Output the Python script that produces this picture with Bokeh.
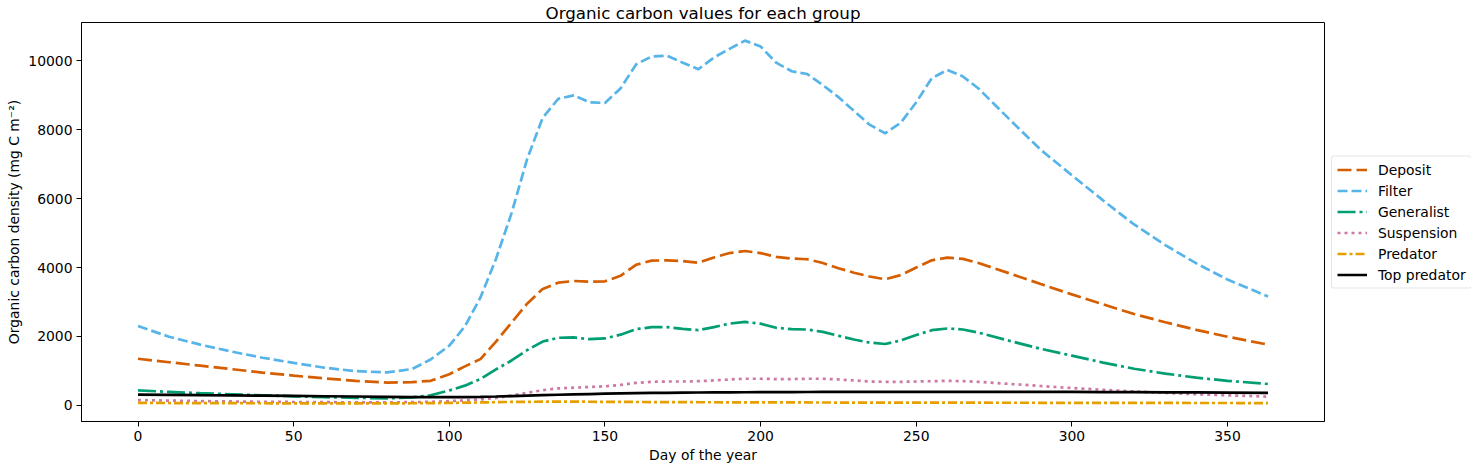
from bokeh.plotting import figure
from bokeh.models import Legend, FixedTicker, Range1d
from bokeh.embed import file_html
from bokeh.resources import INLINE

days = [0, 10, 20, 30, 40, 50, 60, 70, 80, 88, 94, 100, 105, 110, 115, 120, 125, 130, 135, 140,
        145, 150, 155, 160, 165, 170, 175, 180, 185, 190, 195, 200, 205, 210, 215, 220, 225, 230,
        235, 240, 245, 250, 255, 260, 265, 270, 280, 290, 300, 310, 320, 330, 340, 350, 363]

deposit = [1350, 1250, 1150, 1050, 950, 860, 780, 710, 660, 670, 710, 900, 1130, 1340, 1850, 2400,
           2950, 3380, 3560, 3610, 3590, 3600, 3760, 4080, 4200, 4210, 4190, 4140, 4290, 4420, 4480,
           4420, 4310, 4260, 4240, 4130, 3980, 3850, 3740, 3660, 3780, 4000, 4210, 4290, 4250, 4130,
           3830, 3520, 3220, 2930, 2650, 2410, 2190, 1990, 1760]

filter_ = [2300, 1990, 1760, 1560, 1380, 1230, 1090, 990, 955, 1050, 1330, 1730, 2290, 3130, 4250,
           5580, 7150, 8350, 8900, 9000, 8800, 8780, 9200, 9900, 10130, 10150, 9950, 9760, 10100,
           10350, 10590, 10420, 9950, 9700, 9620, 9300, 8950, 8550, 8150, 7900, 8200, 8800, 9500,
           9740, 9550, 9200, 8300, 7420, 6680, 5950, 5250, 4650, 4120, 3650, 3160]

generalist = [430, 390, 350, 320, 290, 260, 235, 215, 200, 230, 290, 430, 570, 760, 1040, 1300, 1600,
              1850, 1960, 1970, 1920, 1940, 2050, 2210, 2270, 2270, 2220, 2180, 2270, 2370, 2420,
              2370, 2250, 2210, 2200, 2130, 2020, 1910, 1820, 1780, 1880, 2040, 2180, 2230, 2200,
              2110, 1870, 1640, 1440, 1240, 1060, 920, 800, 710, 617]

suspension = [150, 135, 120, 110, 100, 95, 90, 85, 85, 90, 100, 120, 140, 170, 210, 280, 360, 440,
              490, 510, 530, 550, 590, 650, 680, 690, 690, 700, 720, 750, 770, 770, 760, 760, 770,
              770, 750, 720, 690, 680, 680, 690, 700, 710, 700, 680, 620, 560, 500, 450, 400, 360,
              320, 290, 250]

predator = [70, 65, 62, 60, 58, 56, 55, 55, 55, 58, 62, 68, 75, 82, 90, 96, 100, 104, 106, 105, 102,
            100, 98, 95, 93, 92, 90, 88, 87, 86, 85, 84, 83, 82, 81, 80, 79, 78, 77, 76, 76, 75, 75,
            75, 74, 74, 73, 72, 71, 70, 68, 67, 66, 65, 64]

top_predator = [310, 300, 292, 285, 278, 270, 262, 255, 245, 238, 235, 235, 238, 245, 255, 268, 282,
                295, 305, 315, 325, 335, 345, 352, 358, 362, 366, 370, 373, 376, 378, 380, 382, 384,
                385, 386, 387, 388, 388, 389, 389, 389, 390, 390, 390, 390, 389, 388, 386, 383, 380,
                376, 372, 366, 358]

names = ["Deposit", "Filter", "Generalist", "Suspension", "Predator", "Top predator"]
series = [deposit, filter_, generalist, suspension, predator, top_predator]
colors = ["#D55E00", "#56B4E9", "#009E73", "#CC79A7", "#E69F00", "#000000"]
dashes = ["14 5", "10 4", "18 4 3 4", "3 4", "9 3 3 3", "solid"]

x_ticks = [0, 50, 100, 150, 200, 250, 300, 350]
y_ticks = [0, 2000, 4000, 6000, 8000, 10000]

FONT = "DejaVu Sans"
FS = "13.9px"

allv = [v for s in series for v in s]
lo, hi = min(allv), max(allv)
pad = 0.05 * (hi - lo)
xlo, xhi = min(days), max(days)
xpad = 0.05 * (xhi - xlo)

FW, FH = 1243, 399

p = figure(frame_width=FW, frame_height=FH, output_backend="svg", toolbar_location=None,
           x_range=Range1d(xlo - xpad, xhi + xpad), y_range=Range1d(lo - pad, hi + pad),
           title="Organic carbon values for each group",
           min_border_left=81, min_border_right=0, min_border_top=0, min_border_bottom=0)

p.title.align = "center"
p.title.text_font = FONT
p.title.text_font_size = "16.7px"
p.title.text_font_style = "normal"
p.title.text_color = "black"
p.title.offset = 0
p.title.standoff = 0

p.grid.visible = False
p.outline_line_color = "black"
p.outline_line_alpha = 1
p.outline_line_width = 1

for ax in (p.xaxis[0], p.yaxis[0]):
    ax.axis_line_color = "black"
    ax.major_tick_line_color = "black"
    ax.major_tick_out = 5
    ax.major_tick_in = 0
    ax.minor_tick_line_color = None
    ax.major_label_text_font = FONT
    ax.major_label_text_font_size = FS
    ax.major_label_text_color = "black"
    ax.axis_label_text_font = FONT
    ax.axis_label_text_font_size = FS
    ax.axis_label_text_font_style = "normal"
    ax.axis_label_text_color = "black"
    ax.major_label_standoff = 4
    ax.axis_label_standoff = 3

p.xaxis.ticker = FixedTicker(ticks=x_ticks)
p.yaxis.ticker = FixedTicker(ticks=y_ticks)
p.xaxis.axis_label = "Day of the year"
p.yaxis.axis_label = "Organic carbon density (mg C m\u207b\u00b2)"

items = []
for name, vals, col, dash in zip(names, series, colors, dashes):
    r = p.line(days, vals, line_color=col, line_width=2.7, line_dash=dash)
    items.append((name, [r]))

legend = Legend(items=items, location="center_left")
legend.label_text_font = FONT
legend.label_text_font_size = FS
legend.label_text_color = "black"
legend.glyph_width = 30
legend.glyph_height = 16
legend.label_height = 16
legend.spacing = 5
legend.padding = 5
legend.margin = 7
legend.label_standoff = 11
legend.border_line_color = "#cccccc"
legend.border_line_width = 1
legend.border_radius = 3
legend.background_fill_alpha = 0.8
p.add_layout(legend, "right")

open("out.html", "w").write(file_html(p, INLINE))
